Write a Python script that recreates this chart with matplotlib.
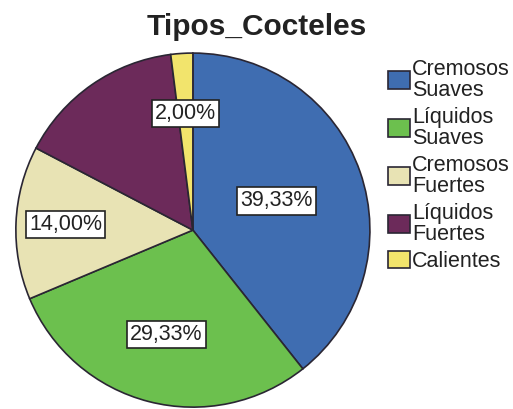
import numpy as np
import matplotlib
matplotlib.use("Agg")
import matplotlib.pyplot as plt

# Cocktail type shares (percent)
categories = ["Cremosos\nSuaves", "Líquidos\nSuaves", "Cremosos\nFuertes",
              "Líquidos\nFuertes", "Calientes"]
shares = [39.33, 29.33, 14.00, 15.33, 2.00]
show_label = [True, True, True, False, True]
colors = ["#3f6db1", "#6cc04e", "#e8e3b4", "#6c2a5a", "#f2e46c"]
label_dist = [0.5, 0.61, 0.72, 0.6, 0.66]

plt.rcParams['font.family'] = ['Liberation Sans', 'DejaVu Sans']

fig = plt.figure(figsize=(5.13, 4.09), dpi=100)
ax = fig.add_axes([0.029, 0.0024, 0.694, 0.870])

wedges, _ = ax.pie(shares, colors=colors, startangle=90, counterclock=False,
                   wedgeprops=dict(edgecolor="#2a2633", linewidth=1.2))
ax.set_xlim(-1.005, 1.005)
ax.set_ylim(-1.005, 1.005)
ax.set_aspect("equal")

# percentage boxes placed along each wedge's bisector
for w, val, show, d in zip(wedges, shares, show_label, label_dist):
    if not show:
        continue
    ang = np.deg2rad((w.theta1 + w.theta2) / 2)
    txt = f"{val:.2f}%".replace(".", ",")
    ax.text(d * np.cos(ang), d * np.sin(ang), txt, ha="center", va="center",
            fontsize=15.5, color="#222222",
            bbox=dict(boxstyle="square,pad=0.15", facecolor="white",
                      edgecolor="#222222", linewidth=1.2))

fig.text(0.5, 0.935, "Tipos_Cocteles", ha="center", va="center",
         fontsize=21.5, fontweight="bold", color="#222222")

leg = fig.legend(wedges, categories, loc="upper left",
                 bbox_to_anchor=(0.74, 0.878), frameon=False,
                 fontsize=15.5, handlelength=1.0, handleheight=0.9,
                 handletextpad=0.12, labelspacing=0.28, borderaxespad=0)
for t in leg.get_texts():
    t.set_linespacing(1.0)
    t.set_color("#222222")

fig.savefig("out.png", dpi=100)
